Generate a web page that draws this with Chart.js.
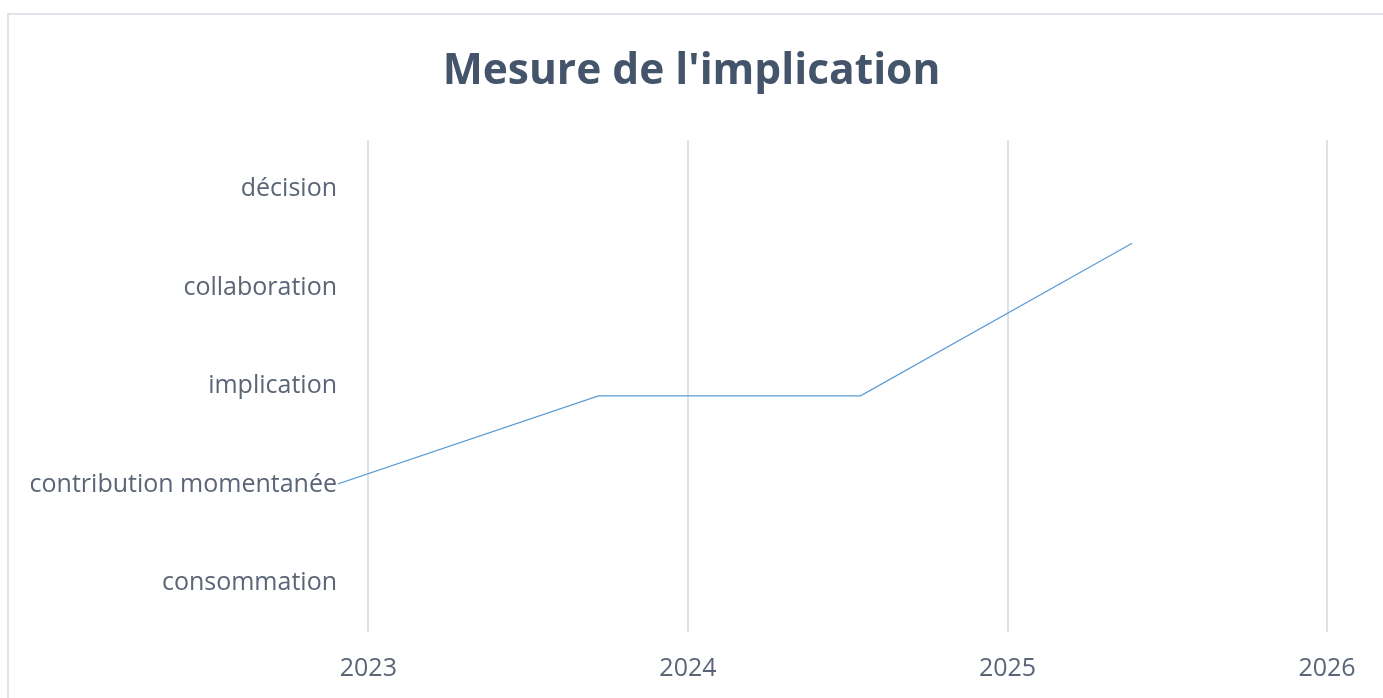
<!DOCTYPE html>
<html lang="fr">
<head>
    <meta charset="UTF-8">
    <title>Mesure de l'implication</title>
    <script src="https://cdn.jsdelivr.net/npm/chart.js@4.4.0/dist/chart.umd.min.js"></script>
    <style>
        html, body { margin: 0; padding: 0; background: #fff; overflow: hidden; }
        .frame {
            position: absolute; left: 7px; top: 13px;
            width: 1420px; height: 720px;
            border: 2px solid #dfe3ea;
        }
        .wrap { position: absolute; left: 0; top: 0; width: 1383px; height: 698px; }
    </style>
</head>
<body>
<div class="frame"></div>
<div class="wrap"><canvas id="my-chart"></canvas></div>
<script>

    // niveaux d'implication (axe Y)
    const levels = ['consommation', 'contribution momentanée', 'implication', 'collaboration', 'décision'];
    // années affichées (axe X)
    const years = [2023, 2024, 2025, 2026];
    // série : date (année décimale) et niveau
    const dates = [2022.9, 2023.72, 2024.54, 2025.39];
    const values = [1, 1.9, 1.9, 3.45];

    const textColor = '#5b6577';
    const font = { family: "'Open Sans', sans-serif", size: 25 };

    const ctx = document.getElementById('my-chart');

    const data = {
        datasets: [{
            label: "Implication",
            data: dates.map((d, i) => ({ x: d, y: values[i] })),
            borderColor: '#5b9bd5',
            borderWidth: 1.2,
            pointRadius: 0,
            tension: 0,
            fill: false
        }]
    };

    const config = {
        type: 'line',
        data: data,
        options: {
            responsive: true,
            maintainAspectRatio: false,
            animation: false,
            layout: { padding: 0 },
            plugins: {
                legend: { display: false },
                tooltip: { enabled: false },
                title: {
                    display: true,
                    text: "Mesure de l'implication",
                    color: '#44546a',
                    font: { family: "'Open Sans', sans-serif", size: 42.5, weight: 'bold', lineHeight: 1.2 },
                    padding: { top: 46, bottom: 43 }
                }
            },
            scales: {
                x: {
                    type: 'linear',
                    min: 2022.905,
                    max: 2026.175,
                    afterBuildTicks: (axis) => { axis.ticks = years.map(v => ({ value: v })); },
                    afterFit: (axis) => { axis.height = 66; },
                    ticks: {
                        color: textColor,
                        font: font,
                        padding: 22,
                        maxRotation: 0,
                        callback: (v) => String(v)
                    },
                    grid: { color: '#dde1e8', lineWidth: 2, drawTicks: false },
                    border: { display: false }
                },
                y: {
                    type: 'linear',
                    min: -0.5,
                    max: 4.5,
                    afterBuildTicks: (axis) => { axis.ticks = levels.map((_, i) => ({ value: i })); },
                    afterFit: (axis) => { axis.width = 338; },
                    ticks: {
                        color: textColor,
                        font: font,
                        padding: 1,
                        callback: (v) => levels[v]
                    },
                    grid: { display: false, drawTicks: false },
                    border: { display: false }
                }
            }
        }
    };

    const chart = new Chart(ctx, config);

</script>
</body>
</html>
